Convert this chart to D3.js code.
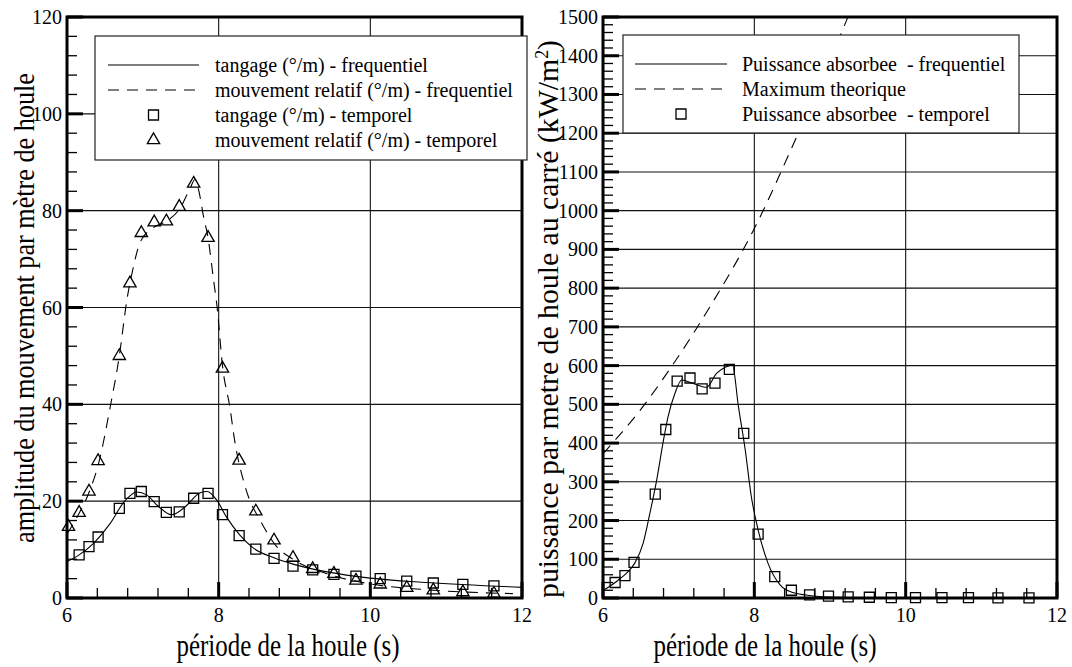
<!DOCTYPE html>
<html><head><meta charset="utf-8">
<script src="https://cdn.jsdelivr.net/npm/d3@7"></script>
<style>
body{margin:0;background:#fff}
svg{display:block}
</style>
</head><body>
<svg id="c" width="1072" height="667" font-family="'Liberation Serif', 'DejaVu Serif', 'Times New Roman', Times, serif"></svg>
<script>
// ---------- data ----------
const xTickValues = [6, 8, 10, 12];
const leftYTickValues = [0, 20, 40, 60, 80, 100, 120];
const rightYTickValues = [0, 100, 200, 300, 400, 500, 600, 700, 800, 900, 1000, 1100, 1200, 1300, 1400, 1500];

// periods of the time-domain simulations (s)
const periods = [6.16, 6.29, 6.41, 6.69, 6.83, 6.98, 7.15, 7.31, 7.48, 7.67, 7.86, 8.05, 8.27, 8.49, 8.73, 8.98, 9.24, 9.52, 9.81, 10.13, 10.48, 10.83, 11.22, 11.63];
const tangageTemporel = [8.9, 10.6, 12.6, 18.5, 21.6, 22.0, 19.9, 17.7, 17.8, 20.6, 21.6, 17.2, 12.9, 10.1, 8.2, 6.6, 5.8, 4.9, 4.5, 4.0, 3.5, 3.1, 2.8, 2.5];
const relPeriods = [6.02, 6.16, 6.29, 6.41, 6.69, 6.83, 6.98, 7.15, 7.31, 7.48, 7.67, 7.86, 8.05, 8.27, 8.49, 8.73, 8.98, 9.24, 9.52, 9.81, 10.13, 10.48, 10.83, 11.22, 11.63];
const relatifTemporel = [14.7, 17.6, 22.0, 28.3, 50.0, 65.0, 75.4, 77.6, 77.8, 80.8, 85.6, 74.4, 47.4, 28.4, 17.9, 11.9, 8.3, 6.0, 5.0, 3.6, 2.8, 2.1, 1.6, 1.2, 0.9];
const puissanceTemporel = [40, 58, 92, 268, 435, 560, 568, 540, 555, 590, 425, 165, 55, 20, 8, 5, 3, 2, 1, 1, 1, 1, 0.5, 0.5];

// frequency-domain curves (period, value)
const tangageFreqT = [6.0, 6.16, 6.35, 6.57, 6.75, 6.92, 7.05, 7.2, 7.38, 7.57, 7.75, 7.85, 7.975, 8.1, 8.28, 8.46, 8.73, 8.98, 9.43, 10.0, 10.75, 12.0];
const tangageFreqV = [7.5, 8.9, 11.3, 15.4, 19.8, 21.9, 21.3, 19.0, 17.2, 19.0, 21.7, 22.0, 20.2, 16.8, 13.0, 10.3, 8.3, 7.0, 5.4, 4.1, 3.2, 2.2];
const relatifFreqT = [6.0, 6.16, 6.29, 6.42, 6.57, 6.69, 6.79, 6.87, 6.96, 7.13, 7.31, 7.49, 7.62, 7.69, 7.74, 7.8, 7.86, 7.93, 7.98, 8.05, 8.15, 8.21, 8.35, 8.57, 8.76, 8.98, 9.43, 10.0, 10.75, 11.88];
const relatifFreqV = [13.2, 17.5, 21.8, 28.0, 39.5, 50.0, 61.6, 68.0, 73.3, 76.4, 77.8, 80.5, 84.5, 86.5, 84.0, 78.8, 74.4, 66.0, 60.0, 48.0, 39.2, 32.6, 23.0, 15.4, 10.7, 8.0, 5.0, 2.9, 1.7, 0.9];
const puissanceFreqT = [6.0, 6.16, 6.31, 6.42, 6.53, 6.62, 6.71, 6.80, 6.86, 6.95, 7.04, 7.19, 7.37, 7.5, 7.63, 7.71, 7.79, 7.88, 7.96, 8.05, 8.18, 8.34, 8.51, 8.75, 9.09, 10.0, 12.0];
const puissanceFreqV = [19, 40, 64, 90, 141, 219, 305, 408, 468, 528, 563, 554, 544, 580, 597, 602, 494, 382, 262, 176, 90, 34, 14, 6, 2, 0, 0];
const maximumT = [6.0, 6.22, 6.46, 6.89, 7.46, 7.99, 8.51, 9.22, 9.3];
const maximumV = [372, 421, 477, 593, 767, 950, 1169, 1492, 1530];

const leftLegend = ["tangage (°/m) - frequentiel", "mouvement relatif (°/m) - frequentiel", "tangage (°/m) - temporel", "mouvement relatif (°/m) - temporel"];
const rightLegend = ["Puissance absorbee  - frequentiel", "Maximum theorique", "Puissance absorbee  - temporel"];

// ---------- drawing ----------
const svg = d3.select("#c");
const DASH = "11,8";

function zip(a, b) { return a.map((d, i) => [d, b[i]]); }

function panel(o) {
  const x = d3.scaleLinear().domain([6, 12]).range(o.xr);
  const y = d3.scaleLinear().domain([o.yTicks[0], o.yTicks[o.yTicks.length - 1]]).range([598, 17]);
  const g = svg.append("g");
  const id = "clip" + o.name;
  g.append("clipPath").attr("id", id).append("rect")
    .attr("x", o.xr[0]).attr("y", 17).attr("width", o.xr[1] - o.xr[0]).attr("height", 581);

  // grid
  g.selectAll(".gy").data(o.yTicks.slice(1, -1)).join("line")
    .attr("x1", o.xr[0]).attr("x2", o.xr[1]).attr("y1", d => y(d)).attr("y2", d => y(d))
    .attr("stroke", "#111").attr("stroke-width", 1.1);
  g.selectAll(".gx").data(xTickValues.slice(1, -1)).join("line")
    .attr("y1", 17).attr("y2", 598).attr("x1", d => x(d)).attr("x2", d => x(d))
    .attr("stroke", "#111").attr("stroke-width", 1.1);

  // minor ticks
  const ys = o.yTicks[1] - o.yTicks[0];
  const yMinor = d3.range(o.yTicks[0], o.yTicks[o.yTicks.length - 1], ys / 5).filter((d, i) => i % 5 !== 0);
  g.selectAll(".my").data(yMinor).join("line")
    .attr("x1", o.xr[0]).attr("x2", o.xr[0] + 10).attr("y1", d => y(d)).attr("y2", d => y(d))
    .attr("stroke", "#000").attr("stroke-width", 1.3);
  g.selectAll(".My").data(o.yTicks).join("line")
    .attr("x1", o.xr[0]).attr("x2", o.xr[0] + 16).attr("y1", d => y(d)).attr("y2", d => y(d))
    .attr("stroke", "#000").attr("stroke-width", 3);
  const xMinor = d3.range(6, 12, 0.4).filter((d, i) => i % 5 !== 0);
  g.selectAll(".mx").data(xMinor).join("line")
    .attr("x1", d => x(d)).attr("x2", d => x(d)).attr("y1", 598).attr("y2", 588)
    .attr("stroke", "#000").attr("stroke-width", 1.3);
  g.selectAll(".Mx").data(xTickValues).join("line")
    .attr("x1", d => x(d)).attr("x2", d => x(d)).attr("y1", 598).attr("y2", 582)
    .attr("stroke", "#000").attr("stroke-width", 3);

  // labels
  g.selectAll(".ly").data(o.yTicks).join("text")
    .attr("x", o.xr[0] - 5).attr("y", d => y(d) + 7).attr("text-anchor", "end")
    .attr("font-size", 20).text(d => d);
  g.selectAll(".lx").data(xTickValues).join("text")
    .attr("x", d => x(d)).attr("y", 622).attr("text-anchor", "middle")
    .attr("font-size", 20).text(d => d);

  const plot = g.append("g").attr("clip-path", `url(#${id})`);
  const line = d3.line().x(d => x(d[0])).y(d => y(d[1])).curve(d3.curveMonotoneX);
  o.curves.forEach(c => {
    plot.append("path").attr("d", line(c.pts)).attr("fill", "none")
      .attr("stroke", "#000").attr("stroke-width", 1.1)
      .attr("stroke-dasharray", c.dash ? DASH : null);
  });
  o.markers.forEach(m => {
    const sym = d3.symbol().type(m.type === "sq" ? d3.symbolSquare : d3.symbolTriangle).size(m.type === "sq" ? 100 : 66);
    g.append("g").selectAll("path").data(m.pts).join("path")
      .attr("transform", d => `translate(${x(d[0])},${y(d[1])})`)
      .attr("d", sym()).attr("fill", "none").attr("stroke", "#000").attr("stroke-width", 1.3);
  });

  // frame
  g.append("rect").attr("x", o.xr[0]).attr("y", 17).attr("width", o.xr[1] - o.xr[0]).attr("height", 581)
    .attr("fill", "none").attr("stroke", "#000").attr("stroke-width", 3);

  // legend
  const L = o.legend;
  const lg = g.append("g");
  lg.append("rect").attr("x", L.x0).attr("y", L.y0).attr("width", L.x1 - L.x0).attr("height", L.y1 - L.y0)
    .attr("fill", "#fff").attr("stroke", "#222").attr("stroke-width", 1.2);
  L.items.forEach((it, i) => {
    const cy = L.cy0 + i * 25;
    if (it.kind === "line") {
      lg.append("line").attr("x1", L.lx0).attr("x2", L.lx1).attr("y1", cy).attr("y2", cy)
        .attr("stroke", "#000").attr("stroke-width", 1.1).attr("stroke-dasharray", it.dash ? DASH : null);
    } else {
      const sym = d3.symbol().type(it.kind === "sq" ? d3.symbolSquare : d3.symbolTriangle).size(it.kind === "sq" ? 100 : 66);
      lg.append("path").attr("transform", `translate(${(L.lx0 + L.lx1) / 2},${cy})`).attr("d", sym())
        .attr("fill", "none").attr("stroke", "#000").attr("stroke-width", 1.3);
    }
    lg.append("text").attr("x", L.tx).attr("y", cy + 7).attr("font-size", 20)
      .attr("xml:space", "preserve").style("white-space", "pre").text(it.label);
  });

  // axis titles
  g.append("text").attr("font-size", 32).attr("text-anchor", "middle")
    .attr("x", o.xTitleX).attr("y", 656)
    .attr("textLength", 223).attr("lengthAdjust", "spacingAndGlyphs")
    .text("période de la houle (s)");
  const yt = g.append("text").attr("text-anchor", "middle")
    .attr("transform", `translate(${o.yTitle.x},${o.yTitle.y}) rotate(-90)`)
    .attr("font-size", o.yTitle.fs).attr("textLength", o.yTitle.len).attr("lengthAdjust", "spacingAndGlyphs");
  o.yTitle.parts.forEach(p => {
    const t = yt.append("tspan").text(p.t);
    if (p.sup) t.attr("baseline-shift", "super").attr("font-size", o.yTitle.fs * 0.6);
  });
}

panel({
  name: "L", xr: [67, 522], yTicks: leftYTickValues,
  curves: [{ pts: zip(tangageFreqT, tangageFreqV), dash: false }, { pts: zip(relatifFreqT, relatifFreqV), dash: true }],
  markers: [{ type: "sq", pts: zip(periods, tangageTemporel) }, { type: "tri", pts: zip(relPeriods, relatifTemporel) }],
  legend: { x0: 95, x1: 527, y0: 36, y1: 160, cy0: 65, lx0: 108, lx1: 199, tx: 215,
    items: [{ kind: "line", dash: false, label: leftLegend[0] }, { kind: "line", dash: true, label: leftLegend[1] },
            { kind: "sq", label: leftLegend[2] }, { kind: "tri", label: leftLegend[3] }] },
  xTitleX: 288,
  yTitle: { x: 34, y: 308, fs: 30, len: 470, parts: [{ t: "amplitude du mouvement par mètre de houle" }] }
});

panel({
  name: "R", xr: [603, 1057], yTicks: rightYTickValues,
  curves: [{ pts: zip(puissanceFreqT, puissanceFreqV), dash: false }, { pts: zip(maximumT, maximumV), dash: true }],
  markers: [{ type: "sq", pts: zip(periods, puissanceTemporel) }],
  legend: { x0: 623, x1: 1019, y0: 35, y1: 133, cy0: 64, lx0: 635, lx1: 727, tx: 742,
    items: [{ kind: "line", dash: false, label: rightLegend[0] }, { kind: "line", dash: true, label: rightLegend[1] },
            { kind: "sq", label: rightLegend[2] }] },
  xTitleX: 765,
  yTitle: { x: 558, y: 319, fs: 30, len: 558, parts: [{ t: "puissance par metre de houle au carré (kW/m" }, { t: "2", sup: true }, { t: ")" }] }
});
</script>
</body></html>
